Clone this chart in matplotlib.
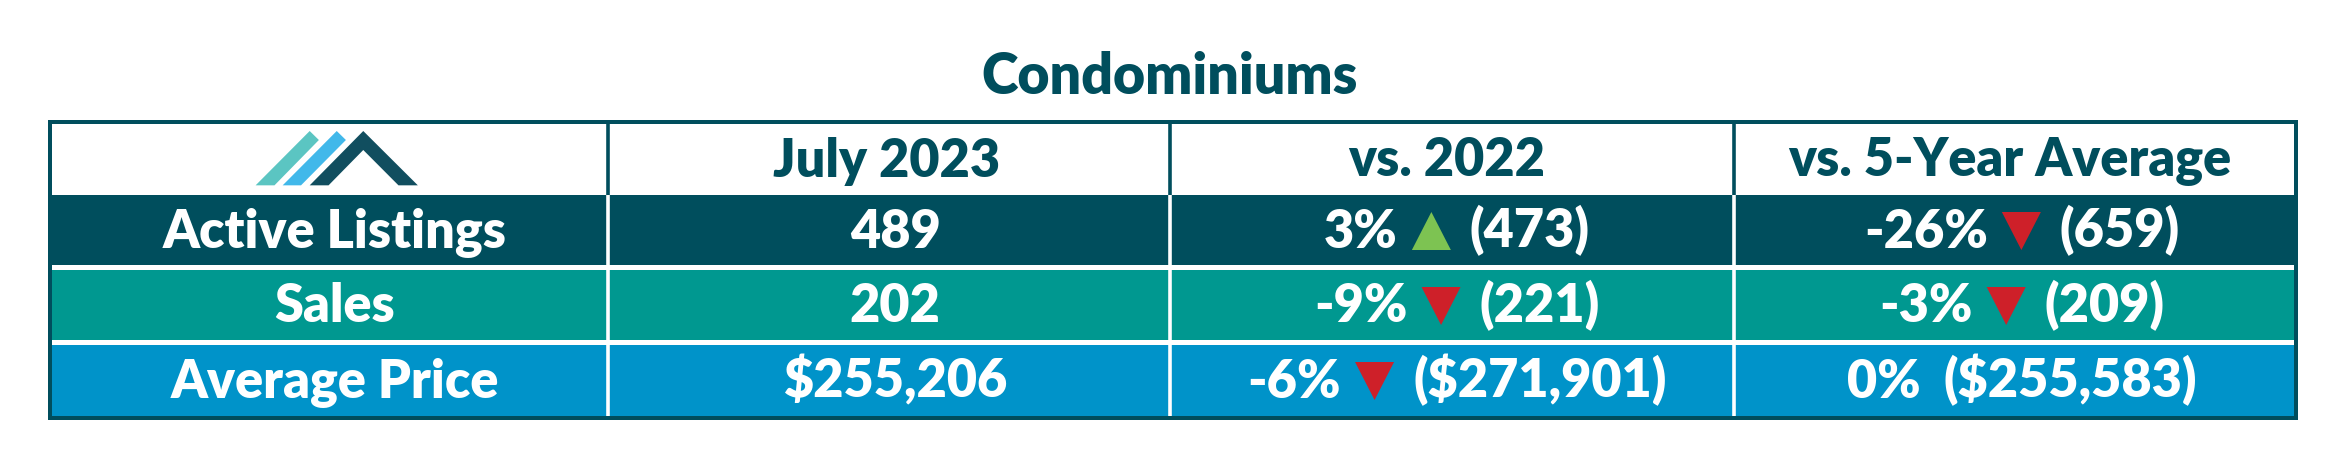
import matplotlib
matplotlib.use("Agg")
import matplotlib.pyplot as plt
from matplotlib.patches import Polygon, Rectangle

plt.rcParams['font.family'] = ['Lato', 'DejaVu Sans']

title = "Condominiums"
headers = ["July 2023", "vs. 2022", "vs. 5-Year Average"]
rows = ["Active Listings", "Sales", "Average Price"]
current = ["489", "202", "$255,206"]
pct_2022 = ["3%", "-9%", "-6%"]
arrow_2022 = ["up", "down", "down"]
prev_2022 = ["(473)", "(221)", "($271,901)"]
pct_avg = ["-26%", "-3%", "0%"]
arrow_avg = ["down", "down", None]
prev_avg = ["(659)", "(209)", "($255,583)"]

DARK = "#004e5d"
row_colors = ["#004e5d", "#009890", "#0093c9"]
arrow_colors = {"up": "#7dc352", "down": "#ce2029"}

col_x = [608, 1170, 1734]
baselines = [247.5, 322.5, 397.5]
FS = 37.5

fig = plt.figure(figsize=(23.43, 4.75), dpi=100)
ax = fig.add_axes([0, 0, 1, 1])
ax.set_xlim(0, 2343)
ax.set_ylim(475, 0)
ax.axis("off")

# outer frame
ax.add_patch(Rectangle((48, 119.5), 2250, 300.5, fc=DARK, ec="none"))
ax.add_patch(Rectangle((52, 124), 2242, 292, fc="white", ec="none"))

# coloured rows
tops = [195, 270, 345]
bots = [265, 340, 416]
for c, t, b in zip(row_colors, tops, bots):
    ax.add_patch(Rectangle((52, t), 2242, b - t, fc=c, ec="none"))

# column lines: dark in the header, white below
for x in col_x:
    ax.plot([x, x], [124, 195], color=DARK, lw=2.6, solid_capstyle="butt")
    ax.plot([x, x], [195, 416], color="white", lw=2.6, solid_capstyle="butt")

# logo
def logo_pts(pts):
    return [(x / 1.96, 30 + y / 3) for x, y in pts]

ax.add_patch(Polygon(logo_pts([(501, 466), (538, 466), (625, 330), (607, 303)]), fc="#5bc5c2", ec="none"))
ax.add_patch(Polygon(logo_pts([(554, 466), (590, 466), (678, 330), (660, 303)]), fc="#41b8ea", ec="none"))
ax.add_patch(Polygon(logo_pts([(607, 466), (644, 466), (712, 360), (781, 466), (819, 466), (712, 303)]), fc="#114e5f", ec="none"))

txt = dict(fontsize=FS, fontweight="heavy")
ax.text(1170, 94, title, color=DARK, ha="center", va="baseline", fontsize=40, fontweight="heavy")

for cx, h in zip([887, 1447, 2010], headers):
    ax.text(cx, 176.5, h, color=DARK, ha="center", va="baseline", **txt)

for i, name in enumerate(rows):
    ax.text(335, baselines[i], name, color="white", ha="center", va="baseline", **txt)
    ax.text(895, baselines[i], current[i], color="white", ha="center", va="baseline", **txt)

# change cells: pct, arrow, previous value, laid out from measured widths
renderer = fig.canvas.get_renderer()
TRI_W = 39

def change_cell(cx, base, pct, arrow, prev):
    t1 = ax.text(0, base, pct, color="white", ha="left", va="baseline", **txt)
    t2 = ax.text(0, base, prev, color="white", ha="left", va="baseline", **txt)
    w1 = t1.get_window_extent(renderer).width
    w2 = t2.get_window_extent(renderer).width
    mid = TRI_W + 33 if arrow else 22
    left = cx - (w1 + mid + w2) / 2
    t1.set_x(left)
    t2.set_x(left + w1 + mid)
    if arrow is None:
        return
    tx = left + w1 + 14
    top, bot = base - 35.5, base + 2.5
    if arrow == "up":
        pts = [(tx, bot), (tx + TRI_W, bot), (tx + TRI_W / 2, top)]
    else:
        pts = [(tx, top), (tx + TRI_W, top), (tx + TRI_W / 2, bot)]
    ax.add_patch(Polygon(pts, fc=arrow_colors[arrow], ec="none"))

for i in range(3):
    change_cell(1457, baselines[i], pct_2022[i], arrow_2022[i], prev_2022[i])
    change_cell(2022, baselines[i], pct_avg[i], arrow_avg[i], prev_avg[i])

fig.savefig("out.png", dpi=100)
